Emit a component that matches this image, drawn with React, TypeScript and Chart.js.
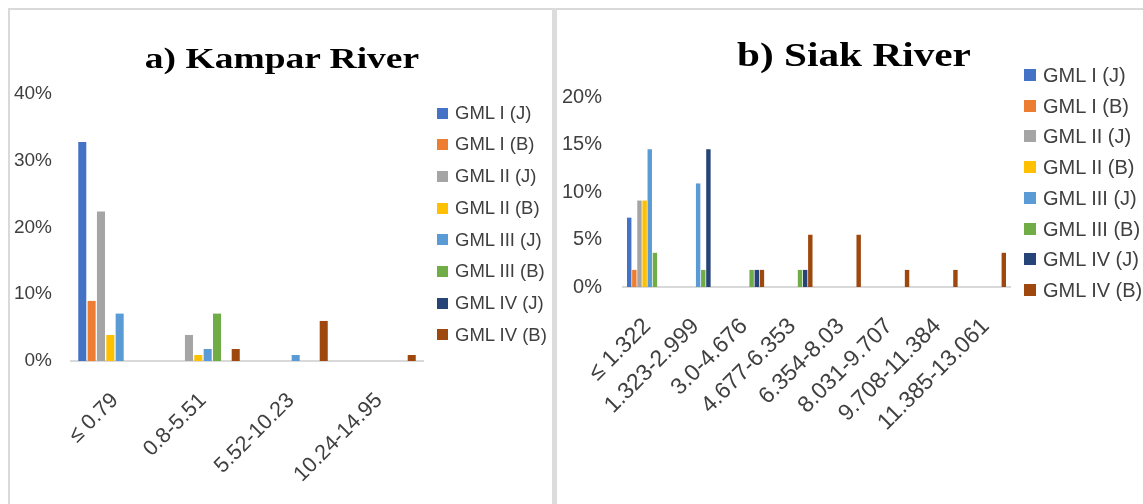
import React, { useEffect, useRef } from "react";
import { Chart, registerables } from "chart.js";

Chart.register(...registerables);

// ---------- data ----------
const seriesNames = [
  "GML I (J)",
  "GML I (B)",
  "GML II (J)",
  "GML II (B)",
  "GML III (J)",
  "GML III (B)",
  "GML IV (J)",
  "GML IV (B)",
];
const seriesColors = [
  "#4472C4",
  "#ED7D31",
  "#A5A5A5",
  "#FFC000",
  "#5B9BD5",
  "#70AD47",
  "#264478",
  "#9E480E",
];

const kamparTitle = "a) Kampar River";
const kamparCategories = ["≤ 0.79", "0.8-5.51", "5.52-10.23", "10.24-14.95"];
const kamparGML1J = [32.8, 0, 0, 0];
const kamparGML1B = [9.0, 0, 0, 0];
const kamparGML2J = [22.4, 3.9, 0, 0];
const kamparGML2B = [3.9, 0.9, 0, 0];
const kamparGML3J = [7.1, 1.8, 0.9, 0];
const kamparGML3B = [0, 7.1, 0, 0];
const kamparGML4J = [0, 0, 0, 0];
const kamparGML4B = [0, 1.8, 6.0, 0.9];
const kamparYMax = 40;
const kamparYStep = 10;

const siakTitle = "b) Siak River";
const siakCategories = [
  "≤ 1.322",
  "1.323-2.999",
  "3.0-4.676",
  "4.677-6.353",
  "6.354-8.03",
  "8.031-9.707",
  "9.708-11.384",
  "11.385-13.061",
];
const siakGML1J = [7.3, 0, 0, 0, 0, 0, 0, 0];
const siakGML1B = [1.8, 0, 0, 0, 0, 0, 0, 0];
const siakGML2J = [9.1, 0, 0, 0, 0, 0, 0, 0];
const siakGML2B = [9.1, 0, 0, 0, 0, 0, 0, 0];
const siakGML3J = [14.5, 10.9, 0, 0, 0, 0, 0, 0];
const siakGML3B = [3.6, 1.8, 1.8, 1.8, 0, 0, 0, 0];
const siakGML4J = [0, 14.5, 1.8, 1.8, 0, 0, 0, 0];
const siakGML4B = [0, 0, 1.8, 5.5, 5.5, 1.8, 1.8, 3.6];
const siakYMax = 20;
const siakYStep = 5;

const kamparSeries = [
  kamparGML1J,
  kamparGML1B,
  kamparGML2J,
  kamparGML2B,
  kamparGML3J,
  kamparGML3B,
  kamparGML4J,
  kamparGML4B,
];
const siakSeries = [
  siakGML1J,
  siakGML1B,
  siakGML2J,
  siakGML2B,
  siakGML3J,
  siakGML3B,
  siakGML4J,
  siakGML4B,
];

const TEXT = "#404040";
const SANS = "'Liberation Sans', Arial, sans-serif";
const SERIF = "'Liberation Serif', 'Times New Roman', serif";

type Geom = {
  width: number;
  height: number;
  padLeft: number;
  padRight: number;
  padTop: number;
  padBottom: number;
  yWidth: number;
  xHeight: number;
  yPad: number;
  xPad: number;
  yFont: number;
  xFont: number;
};

function BarPanel(props: {
  categories: string[];
  series: number[][];
  yMax: number;
  yStep: number;
  geom: Geom;
  left: number;
  top: number;
}) {
  const ref = useRef<HTMLCanvasElement>(null);
  const { categories, series, yMax, yStep, geom, left, top } = props;
  useEffect(() => {
    if (!ref.current) return;
    const chart = new Chart(ref.current, {
      type: "bar",
      data: {
        labels: categories,
        datasets: series.map((d, i) => ({
          label: seriesNames[i],
          data: d,
          backgroundColor: seriesColors[i],
          borderWidth: 0,
          barPercentage: 0.86,
          categoryPercentage: 0.85,
        })),
      },
      options: {
        responsive: false,
        animation: false,
        devicePixelRatio: 1,
        layout: {
          padding: {
            left: geom.padLeft,
            right: geom.padRight,
            top: geom.padTop,
            bottom: geom.padBottom,
          },
        },
        plugins: {
          legend: { display: false },
          title: { display: false },
          tooltip: { enabled: false },
        },
        scales: {
          x: {
            grid: { display: false, drawTicks: false },
            border: { display: true, color: "#D9D9D9", width: 2 },
            ticks: {
              autoSkip: false,
              minRotation: 45,
              maxRotation: 45,
              padding: geom.xPad,
              color: TEXT,
              font: { family: SANS, size: geom.xFont },
            },
            afterFit: (s: any) => {
              s.height = geom.xHeight;
            },
          },
          y: {
            min: 0,
            max: yMax,
            grid: { display: false, drawTicks: false },
            border: { display: false },
            ticks: {
              stepSize: yStep,
              padding: geom.yPad,
              color: TEXT,
              font: { family: SANS, size: geom.yFont },
              callback: (v: any) => v + "%",
            },
            afterFit: (s: any) => {
              s.width = geom.yWidth;
            },
          },
        },
      },
    } as any);
    return () => chart.destroy();
  }, []);
  return (
    <canvas
      ref={ref}
      width={geom.width}
      height={geom.height}
      style={{ position: "absolute", left, top, width: geom.width, height: geom.height }}
    />
  );
}

function Title(props: { text: string; cx: number; top: number; size: number }) {
  return (
    <div
      style={{
        position: "absolute",
        left: props.cx - 200,
        top: props.top,
        width: 400,
        textAlign: "center",
        fontFamily: SERIF,
        fontWeight: "bold",
        fontSize: props.size,
        lineHeight: props.size + "px",
        color: "#000",
        whiteSpace: "nowrap",
        transform: "scaleX(1.25)",
        transformOrigin: "center",
      }}
    >
      {props.text}
    </div>
  );
}

function Legend(props: {
  boxLeft: number;
  boxSize: number;
  textLeft: number;
  firstY: number;
  step: number;
  size: number;
}) {
  const { boxLeft, boxSize, textLeft, firstY, step, size } = props;
  return (
    <>
      {seriesNames.map((n, i) => {
        const cy = firstY + i * step;
        return (
          <React.Fragment key={n}>
            <div
              style={{
                position: "absolute",
                left: boxLeft,
                top: cy - boxSize / 2,
                width: boxSize,
                height: boxSize,
                background: seriesColors[i],
              }}
            />
            <div
              style={{
                position: "absolute",
                left: textLeft,
                top: cy - size / 2,
                fontFamily: SANS,
                fontSize: size,
                lineHeight: size + "px",
                color: TEXT,
                whiteSpace: "nowrap",
              }}
            >
              {n}
            </div>
          </React.Fragment>
        );
      })}
    </>
  );
}

const kamparGeom: Geom = {
  width: 542,
  height: 494,
  padLeft: 0,
  padRight: 129,
  padTop: 84,
  padBottom: 0,
  yWidth: 61,
  xHeight: 143,
  yPad: 19,
  xPad: 27,
  yFont: 19,
  xFont: 21.5,
};

const siakGeom: Geom = {
  width: 586,
  height: 494,
  padLeft: 0,
  padRight: 133,
  padTop: 87,
  padBottom: 0,
  yWidth: 66,
  xHeight: 217,
  yPad: 21,
  xPad: 26,
  yFont: 20,
  xFont: 23,
};

export default function App() {
  return (
    <div
      style={{
        position: "absolute",
        left: 0,
        top: 0,
        width: 1143,
        height: 504,
        overflow: "hidden",
        background: "#fff",
      }}
    >
      <div style={{ position: "absolute", left: 8, top: 8, width: 1135, height: 2, background: "#D9D9D9" }} />
      <div style={{ position: "absolute", left: 8, top: 8, width: 2, height: 496, background: "#D9D9D9" }} />
      <div style={{ position: "absolute", left: 552, top: 8, width: 5, height: 496, background: "#DCDCDC" }} />

      <BarPanel
        categories={kamparCategories}
        series={kamparSeries}
        yMax={kamparYMax}
        yStep={kamparYStep}
        geom={kamparGeom}
        left={10}
        top={10}
      />
      <BarPanel
        categories={siakCategories}
        series={siakSeries}
        yMax={siakYMax}
        yStep={siakYStep}
        geom={siakGeom}
        left={557}
        top={10}
      />

      <Title text={kamparTitle} cx={281.5} top={43} size={30} />
      <Title text={siakTitle} cx={854} top={39} size={33} />

      <Legend boxLeft={437} boxSize={11} textLeft={455} firstY={113} step={31.7} size={18.5} />
      <Legend boxLeft={1024} boxSize={12} textLeft={1043} firstY={75} step={30.7} size={20} />
    </div>
  );
}
